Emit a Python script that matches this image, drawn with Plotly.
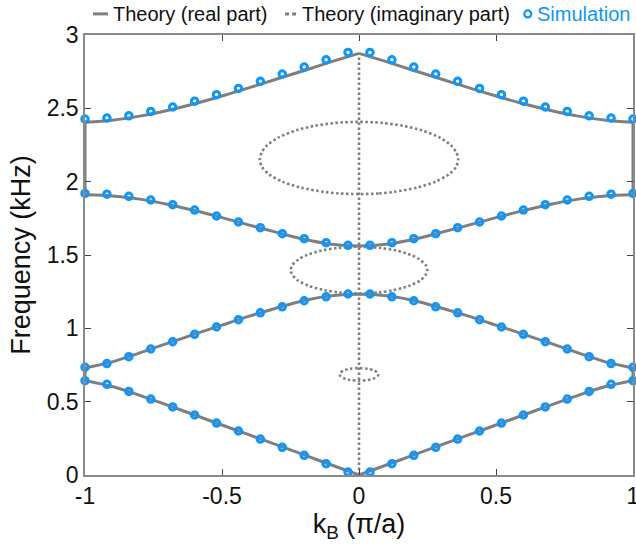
import plotly.graph_objects as go

# ---------------- data ----------------
# theory (real part), right half k = 0 ... 1 (pi/a); band structure is symmetric in k
k_th_half = [0.0, 0.1, 0.2, 0.3, 0.4, 0.5, 0.6, 0.7, 0.8, 0.9, 1.0]
band1_th = [0.0, 0.068, 0.137, 0.205, 0.273, 0.341, 0.409, 0.477, 0.543, 0.603, 0.645]
band2_th = [1.232, 1.222, 1.190, 1.139, 1.083, 1.022, 0.960, 0.897, 0.833, 0.771, 0.730]
band3_th = [1.562, 1.573, 1.607, 1.654, 1.704, 1.755, 1.803, 1.846, 1.881, 1.903, 1.910]
band4_th = [2.875, 2.818, 2.758, 2.700, 2.641, 2.584, 2.531, 2.485, 2.447, 2.419, 2.405]

# real part inside the zone-edge gaps (k = +/-1)
edge_gap1 = [0.645, 0.730]
edge_gap2 = [1.910, 2.405]

# theory (imaginary part): Im(k) vs frequency, right half of each closed loop (bottom -> top)
loop1_f = [0.643, 0.648, 0.660, 0.675, 0.686, 0.697, 0.712, 0.724, 0.729]
loop1_w = [0.0, 0.033, 0.056, 0.068, 0.070, 0.068, 0.056, 0.033, 0.0]
loop2_f = [1.238, 1.245, 1.260, 1.290, 1.330, 1.370, 1.397, 1.430, 1.470, 1.500, 1.530, 1.548, 1.556]
loop2_w = [0.0, 0.073, 0.126, 0.184, 0.226, 0.245, 0.249, 0.244, 0.221, 0.190, 0.137, 0.078, 0.0]
loop3_f = [1.915, 1.920, 1.930, 1.960, 2.000, 2.050, 2.100, 2.150, 2.200, 2.250, 2.300, 2.350, 2.380, 2.400, 2.405, 2.408]
loop3_w = [0.0, 0.074, 0.127, 0.213, 0.279, 0.328, 0.354, 0.362, 0.355, 0.334, 0.295, 0.229, 0.164, 0.089, 0.055, 0.0]
imag_zero_f = [0.0, 2.875]   # Im(k) = 0 axis segment

# simulation, right half k = 0.04 ... 1.0
k_sim_half = [0.04, 0.12, 0.20, 0.28, 0.36, 0.44, 0.52, 0.60, 0.68, 0.76, 0.84, 0.92, 1.00]
band1_sim = [0.020, 0.077, 0.134, 0.189, 0.245, 0.300, 0.354, 0.409, 0.464, 0.518, 0.570, 0.618, 0.643]
band2_sim = [1.234, 1.215, 1.188, 1.147, 1.106, 1.059, 1.009, 0.959, 0.909, 0.859, 0.807, 0.760, 0.734]
band3_sim = [1.566, 1.584, 1.611, 1.645, 1.686, 1.725, 1.766, 1.806, 1.843, 1.875, 1.900, 1.915, 1.920]
band4_sim = [2.881, 2.831, 2.781, 2.734, 2.684, 2.636, 2.593, 2.549, 2.509, 2.479, 2.449, 2.434, 2.427]

x_tickvals = [-1, -0.5, 0, 0.5, 1]
x_ticktext = ["-1", "-0.5", "0", "0.5", "1"]
y_tickvals = [0, 0.5, 1, 1.5, 2, 2.5, 3]
y_ticktext = ["0", "0.5", "1", "1.5", "2", "2.5", "3"]

legend_labels = ["Theory (real part)", "Theory (imaginary part)", "Simulation"]

GRAY = "#7f7f7f"
BLUE = "#0a97ff"
FONT = "Liberation Sans, Arial, sans-serif"

# ---------------- assemble ----------------
def neg(vals):
    return [-v for v in vals]

def left(ks, vs):
    return neg(ks[::-1]), vs[::-1]

def full(ks, vs):
    lk, lv = left(ks, vs)
    return lk + ks[1:], lv + vs[1:]

rx, ry = [], []
# band 1 and band 4 have cusps at k=0 -> draw halves separately
for b in (band1_th, band4_th):
    lk, lv = left(k_th_half, b)
    rx += lk + [None] + k_th_half + [None]
    ry += lv + [None] + b + [None]
for b in (band2_th, band3_th):
    fk, fv = full(k_th_half, b)
    rx += fk + [None]
    ry += fv + [None]
for g in (edge_gap1, edge_gap2):
    for side in (-1, 1):
        rx += [side, side, None]
        ry += g + [None]

ix, iy = [], []
for f, w in ((loop1_f, loop1_w), (loop2_f, loop2_w), (loop3_f, loop3_w)):
    ix += w + neg(w[::-1])[1:] + [None]
    iy += f + f[::-1][1:] + [None]
ix += [0, 0]
iy += imag_zero_f

sx, sy = [], []
for b in (band1_sim, band2_sim, band3_sim, band4_sim):
    sx += neg(k_sim_half[::-1]) + k_sim_half
    sy += b[::-1] + b

fig = go.Figure()
fig.add_trace(go.Scatter(
    x=rx, y=ry, mode="lines", name=legend_labels[0],
    line=dict(color=GRAY, width=3, shape="spline", smoothing=0.8),
    connectgaps=False, cliponaxis=False))
fig.add_trace(go.Scatter(
    x=ix, y=iy, mode="lines", name=legend_labels[1],
    line=dict(color=GRAY, width=2.6, dash="2.5px,2.5px", shape="spline", smoothing=0.8),
    connectgaps=False))
fig.add_trace(go.Scatter(
    x=sx, y=sy, mode="markers", name=legend_labels[2],
    marker=dict(symbol="circle-open", size=6.5, color=BLUE, line=dict(width=3, color=BLUE)),
    cliponaxis=False))

axis_common = dict(
    showline=True, linecolor="#8a8a8a", linewidth=1.5, mirror="ticks",
    ticks="inside", ticklen=6, tickcolor="#444", tickwidth=1,
    showgrid=False, zeroline=False, automargin=False,
    ticklabeloverflow="allow",
    tickfont=dict(family=FONT, size=23, color="#111"),
)
fig.update_xaxes(range=[-1, 1], tickvals=x_tickvals, ticktext=x_ticktext,
                 title=dict(text="k<sub>B</sub> (π/a)", font=dict(family=FONT, size=27, color="#111"), standoff=6),
                 **axis_common)
fig.update_yaxes(range=[0, 3], tickvals=y_tickvals, ticktext=y_ticktext,
                 title=dict(text="Frequency (kHz)", font=dict(family=FONT, size=27, color="#111"), standoff=8),
                 **axis_common)

# ---- legend drawn as a single row above the axes (paper coordinates) ----
LY = 1.048
shapes = [
    dict(type="line", xref="paper", yref="paper", x0=0.0146, x1=0.042, y0=LY, y1=LY,
         line=dict(color=GRAY, width=3)),
    dict(type="line", xref="paper", yref="paper", x0=0.365, x1=0.389, y0=LY, y1=LY,
         line=dict(color=GRAY, width=3, dash="4px,3px")),
    dict(type="circle", xref="paper", yref="paper", xsizemode="pixel", ysizemode="pixel",
         xanchor=0.808, yanchor=LY, x0=-3.5, x1=3.5, y0=-3.5, y1=3.5,
         line=dict(color=BLUE, width=2.2)),
]
annotations = [
    dict(text=legend_labels[0], x=0.047, y=LY, xref="paper", yref="paper",
         xanchor="left", yanchor="middle", showarrow=False,
         font=dict(family=FONT, size=20, color="#111")),
    dict(text=legend_labels[1], x=0.392, y=LY, xref="paper", yref="paper",
         xanchor="left", yanchor="middle", showarrow=False,
         font=dict(family=FONT, size=20, color="#111")),
    dict(text=legend_labels[2], x=0.821, y=LY, xref="paper", yref="paper",
         xanchor="left", yanchor="middle", showarrow=False,
         font=dict(family=FONT, size=20, color=BLUE)),
]

fig.update_layout(
    width=636, height=557,
    margin=dict(l=85, r=3, t=35, b=82, autoexpand=False),
    plot_bgcolor="white", paper_bgcolor="white",
    font=dict(family=FONT, color="#111"),
    showlegend=False,
    shapes=shapes, annotations=annotations,
)

fig.write_html(
    "out.html",
    config={"displayModeBar": False},
    post_script="document.body.style.margin='0';document.body.style.overflow='hidden';",
)
